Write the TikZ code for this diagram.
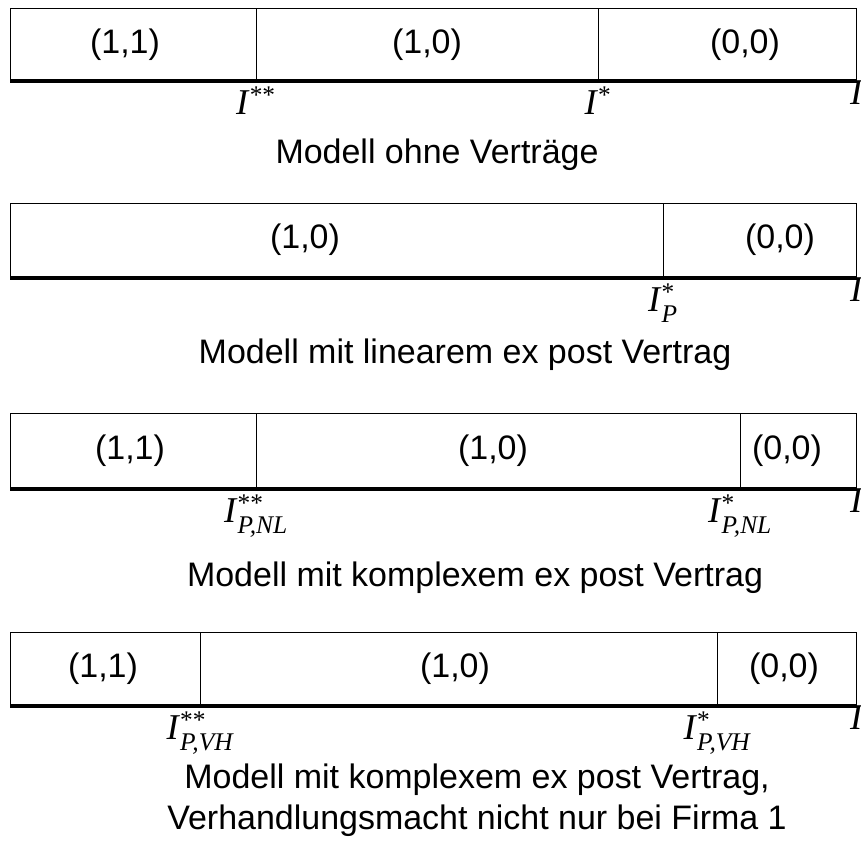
\documentclass[tikz,border=0pt]{standalone}
\usepackage{amsmath}
\usepackage{fontspec}
\setmainfont{Liberation Sans}
\newfontfamily\tnr{Liberation Serif}
\usetikzlibrary{positioning}
% threshold label: I with stars and optional index
\newcommand{\Ilab}[2]{\textit{I}$^{\text{#1}}_{\text{\itshape #2}}$}

\begin{document}
\begin{tikzpicture}[
    x=0.03cm, y=-0.03cm,
    font=\fontsize{29}{35}\selectfont,
    cell/.style={draw, line width=0.8pt},
    axis/.style={line width=3.4pt},
    pay/.style={inner sep=0pt},
    thr/.style={font=\fontsize{31}{37}\selectfont\tnr, anchor=north, inner sep=1pt, yshift=-4pt},
    endlab/.style={font=\fontsize{31}{37}\selectfont\tnr, anchor=north west, inner sep=0pt},
    caption/.style={align=center, inner sep=0pt},
]
\clip (0,0) rectangle (861,854);
\useasboundingbox (0,0) rectangle (861,854);

% Modell ohne Vertraege
\coordinate (oNW) at (10,8); \coordinate (oSE) at (856,81);
\coordinate (oL) at (10,81); \coordinate (oR) at (857,81);
\coordinate (oA) at (256,81); \coordinate (oB) at (598,81);
\draw[cell] (oNW) rectangle (oSE);
\draw[cell] (oA) -- (oA |- oNW);
\draw[cell] (oB) -- (oB |- oNW);
\draw[axis] (oL) -- (oR);
\node[pay] (o11) at (125,45) {(1,1)};
\node[pay] (o10) at (427,45) {(1,0)};
\node[pay] (o00) at (745,45) {(0,0)};
\node[thr] (oIss) at (oA) {\Ilab{**}{}};
\node[thr] (oIs) at (oB) {\Ilab{*}{}};
\node[endlab] (oI) at (850,80) {\itshape I};
\node[caption] (oCap) at (437,155) {Modell ohne Verträge};

% Modell mit linearem ex post Vertrag
\coordinate (lNW) at (10,203); \coordinate (lSE) at (856,278);
\coordinate (lL) at (10,278); \coordinate (lR) at (857,278);
\coordinate (lA) at (663,278);
\draw[cell] (lNW) rectangle (lSE);
\draw[cell] (lA) -- (lA |- lNW);
\draw[axis] (lL) -- (lR);
\node[pay] (l10) at (305,240) {(1,0)};
\node[pay] (l00) at (780,240) {(0,0)};
\node[thr] (lIs) at (lA) {\Ilab{*}{P}};
\node[endlab] (lI) at (850,277) {\itshape I};
\node[caption] (lCap) at (465,355) {Modell mit linearem ex post Vertrag};

% Modell mit komplexem ex post Vertrag
\coordinate (kNW) at (10,413); \coordinate (kSE) at (856,489);
\coordinate (kL) at (10,489); \coordinate (kR) at (857,489);
\coordinate (kA) at (256,489); \coordinate (kB) at (740,489);
\draw[cell] (kNW) rectangle (kSE);
\draw[cell] (kA) -- (kA |- kNW);
\draw[cell] (kB) -- (kB |- kNW);
\draw[axis] (kL) -- (kR);
\node[pay] (k11) at (130,451) {(1,1)};
\node[pay] (k10) at (493,451) {(1,0)};
\node[pay] (k00) at (787,451) {(0,0)};
\node[thr] (kIss) at (kA) {\Ilab{**}{P,NL}};
\node[thr] (kIs) at (kB) {\Ilab{*}{P,NL}};
\node[endlab] (kI) at (850,488) {\itshape I};
\node[caption] (kCap) at (475,578) {Modell mit komplexem ex post Vertrag};

% Verhandlungsmacht
\coordinate (vNW) at (10,632); \coordinate (vSE) at (856,706);
\coordinate (vL) at (10,706); \coordinate (vR) at (857,706);
\coordinate (vA) at (200,706); \coordinate (vB) at (717,706);
\draw[cell] (vNW) rectangle (vSE);
\draw[cell] (vA) -- (vA |- vNW);
\draw[cell] (vB) -- (vB |- vNW);
\draw[axis] (vL) -- (vR);
\node[pay] (v11) at (103,669) {(1,1)};
\node[pay] (v10) at (455,669) {(1,0)};
\node[pay] (v00) at (784,669) {(0,0)};
\node[thr] (vIss) at (vA) {\Ilab{**}{P,VH}};
\node[thr] (vIs) at (vB) {\Ilab{*}{P,VH}};
\node[endlab] (vI) at (850,705) {\itshape I};
\node[caption] (vCap) at (477,800) {Modell mit komplexem ex post Vertrag,\\Verhandlungsmacht nicht nur bei Firma 1};
\end{tikzpicture}
\end{document}
